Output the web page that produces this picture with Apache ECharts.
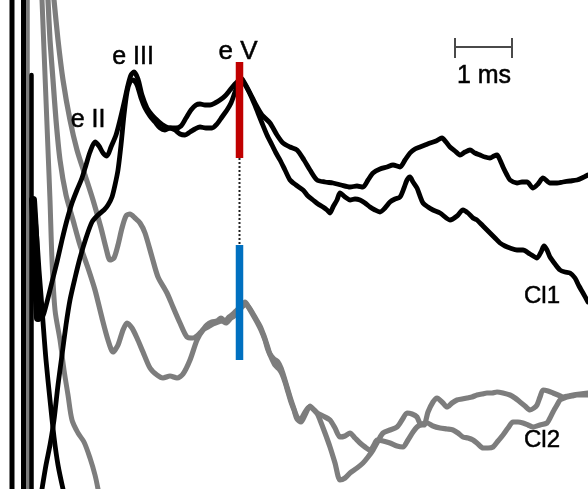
<!DOCTYPE html>
<html>
<head>
<meta charset="utf-8">
<script src="https://cdn.jsdelivr.net/npm/echarts@6/dist/echarts.min.js"></script>
<style>html,body{margin:0;padding:0;background:#fff}#c{width:588px;height:489px}</style>
</head>
<body>
<div id="c"></div>
<script>
// Values (time units on x, amplitude units on y; y grows downward)
const cl1a = [[42,318],[44,313],[47,302],[52,282],[57,262],[62,240],[67,220],[72,203],[77,190],[82,178],[86,165],[90,152],[95,142],[99,146],[103,153],[107,156],[111,147],[116,135],[120,120],[124,103],[128,85],[131,75],[134,72],[138,79],[142,95],[147,108],[152,115],[157,120],[163,125],[170,128],[176,128],[181,126],[186,118],[191,110],[196,105],[200,104],[205,105],[210,105],[215,103],[220,100],[225,96],[230,90],[234,85],[238,81],[241,78],[244,82],[250,93],[256,105],[262,115],[270,123],[277,135],[283,143],[290,147],[297,150],[304,160],[310,170],[317,180],[325,182],[333,183],[341,185],[350,187],[357,186],[363,187],[368,180],[373,173],[380,169],[387,167],[393,165],[400,167],[405,160],[410,153],[415,149],[420,147],[425,145],[430,143],[436,141],[442,138],[446,142],[450,147],[455,151],[460,155],[465,152],[470,150],[475,153],[480,155],[485,157],[490,158],[494,156],[497,155],[500,160],[503,167],[507,175],[510,180],[517,183],[522,182],[527,182],[533,188],[538,184],[543,178],[550,183],[557,183],[563,182],[570,181],[577,180],[582,178],[588,175]];
const cl1b = [[42,489],[46,465],[50,445],[54,420],[58,385],[62,355],[66,325],[70,300],[75,278],[80,258],[86,238],[92,222],[98,215],[104,210],[108,205],[112,197],[115,185],[118,170],[121,145],[124,115],[127,92],[130,82],[133,80],[137,85],[141,98],[145,108],[150,116],[155,122],[160,128],[165,130],[170,128],[175,130],[180,134],[185,135],[190,132],[195,129],[200,127],[206,128],[212,128],[217,124],[222,117],[227,110],[231,103],[235,92],[238,84],[241,80],[244,83],[249,92],[254,103],[258,113],[262,123],[267,135],[272,145],[276,153],[280,160],[285,170],[290,180],[296,185],[303,190],[308,196],[313,200],[318,204],[323,207],[327,210],[330,213],[333,207],[337,200],[340,193],[345,197],[350,200],[355,199],[360,200],[365,203],[370,207],[375,210],[380,212],[385,208],[390,202],[395,199],[400,197],[404,188],[407,180],[410,177],[413,182],[417,188],[420,196],[423,203],[428,207],[433,210],[440,213],[450,220],[457,216],[463,210],[468,213],[473,218],[477,220],[483,226],[490,233],[495,238],[500,243],[505,246],[510,248],[517,250],[523,250],[530,254],[537,258],[541,252],[544,246],[547,250],[550,257],[555,264],[560,270],[565,272],[570,273],[575,278],[579,286],[583,293],[588,302]];
const cl2a = [[54,0],[58,40],[63,80],[70,120],[77,150],[85,175],[93,200],[101,228],[106,248],[110,260],[114,258],[118,245],[122,228],[126,216],[130,214],[135,218],[140,223],[145,233],[152,257],[158,277],[167,293],[173,307],[180,323],[187,337],[193,338],[200,333],[207,325],[212,322],[217,321],[221,318],[225,321],[229,317],[233,314],[237,310],[241,306],[245,302],[248,306],[252,312],[256,319],[260,326],[264,336],[267,345],[270,354],[274,359],[278,362],[281,368],[284,377],[287,387],[290,397],[293,406],[297,417],[300,420],[304,414],[309,407],[313,409],[317,413],[320,420],[325,433],[330,447],[335,463],[340,480],[345,478],[350,473],[357,468],[363,463],[368,457],[373,450],[378,441],[383,433],[390,430],[397,427],[402,420],[407,413],[412,414],[417,417],[421,425],[424,425],[428,412],[433,402],[437,398],[443,403],[447,407],[452,403],[457,400],[462,399],[467,398],[472,397],[477,395],[482,394],[487,393],[492,393],[497,392],[503,393],[510,395],[515,398],[520,402],[525,406],[530,410],[534,408],[537,405],[540,397],[543,390],[548,391],[553,393],[558,395],[563,397],[568,396],[573,395],[580,394],[588,393]];
const cl2b = [[48,0],[50,40],[53,80],[56,120],[60,160],[66,195],[73,220],[80,245],[88,268],[95,290],[102,318],[108,340],[113,352],[118,345],[123,330],[127,323],[132,328],[137,338],[143,352],[150,368],[157,375],[163,378],[170,376],[177,378],[183,374],[190,360],[197,340],[203,330],[208,327],[213,324],[218,322],[222,321],[226,323],[230,319],[234,316],[238,312],[242,307],[246,304],[249,308],[253,315],[257,322],[261,330],[265,340],[268,350],[271,357],[275,365],[279,369],[282,374],[285,382],[288,392],[291,402],[294,410],[297,419],[301,422],[305,415],[310,406],[314,410],[317,413],[323,416],[330,420],[335,428],[340,437],[345,436],[350,433],[355,438],[360,443],[365,447],[370,450],[374,445],[377,440],[383,441],[390,443],[397,446],[403,447],[408,440],[413,432],[417,427],[422,424],[427,423],[433,426],[440,428],[447,429],[453,430],[458,433],[463,437],[468,438],[473,440],[478,444],[483,448],[488,448],[493,447],[498,441],[503,435],[508,428],[513,422],[518,422],[523,423],[528,425],[533,427],[540,425],[547,423],[550,418],[553,412],[557,405],[560,400],[564,398],[567,397],[572,396],[577,395],[582,395],[588,395]];
// stimulus artifact tails
const artGray = [[42,0],[44,50],[46,100],[48,150],[50,200],[52,260],[55,310],[60,340],[64,370],[68,395],[72,420],[78,433],[84,442],[90,458],[95,475],[98,489]];
const artBlack = [[34,205],[37,240],[39,270],[41,295],[43,322],[46,360],[50,400],[54,437],[58,465],[63,489]];
const artBlob = [[33,200],[35,235],[36,270],[37,300],[38,318]];
const artVerticalBlack = [12, 23.5];
const artVerticalGray = [27.5];
const artVerticalBlackLate = [[31.5,75],[31.5,489]];
// wave V marker
const peakVLatency = 239.5;
const cl1Bar = [62, 158];
const cl2Bar = [245, 360];
// scale bar (1 ms)
const scaleBar = [455, 512];
const scaleBarLevel = 47;
const scaleBarTick = [38, 58];
// annotations
const labelNames = ['e II', 'e III', 'e V', '1 ms', 'Cl1', 'Cl2'];
const labelAnchors = [[88,120],[133,57],[238,52],[484,76],[542,296],[542,440]];
const labelSizes = [25, 25, 26, 25, 24, 24];

const BLACK = '#000000', GRAY = '#7d7d7d';
function trace(data, color, width, z, smooth) {
  return {type:'line', data, showSymbol:false, symbol:'none', silent:true, animation:false, z:z||2,
    smooth: smooth || false,
    lineStyle:{color, width, join:'round', cap:'round'}};
}
const series = [];
artVerticalBlack.forEach(x => series.push(trace([[x,0],[x,489]], BLACK, 5, 3)));
artVerticalGray.forEach(x => series.push(trace([[x,0],[x,489]], GRAY, 4.5, 2)));
series.push(trace(artVerticalBlackLate, BLACK, 4.5, 3));
series.push(trace(artBlob, BLACK, 8, 3, 0.3));
series.push(trace(artGray, GRAY, 5, 2, 0.3));
series.push(trace(artBlack, BLACK, 4.8, 3, 0.3));
series.push(trace(cl2a, GRAY, 5.2, 2, 0.25));
series.push(trace(cl2b, GRAY, 5.2, 2, 0.25));
series.push(trace(cl1a, BLACK, 4.8, 3, 0.25));
series.push(trace(cl1b, BLACK, 4.8, 3, 0.25));
// dotted connector
series.push({type:'line', data:[[peakVLatency,cl1Bar[1]],[peakVLatency,cl2Bar[0]]], symbol:'none', silent:true, animation:false, z:4,
  lineStyle:{color:'#222', width:2, type:[2,2]}});
series.push({type:'line', data:[[peakVLatency,cl1Bar[0]],[peakVLatency,cl1Bar[1]]], symbol:'none', silent:true, animation:false, z:5,
  lineStyle:{color:'#C00000', width:7.5, cap:'butt'}});
series.push({type:'line', data:[[peakVLatency,cl2Bar[0]],[peakVLatency,cl2Bar[1]]], symbol:'none', silent:true, animation:false, z:5,
  lineStyle:{color:'#0070C0', width:7.5, cap:'butt'}});
// scale bar
series.push({type:'line', data:[[scaleBar[0],scaleBarTick[0]],[scaleBar[0],scaleBarTick[1]],[scaleBar[0],scaleBarLevel],[scaleBar[1],scaleBarLevel],[scaleBar[1],scaleBarTick[0]],[scaleBar[1],scaleBarTick[1]]],
  symbol:'none', silent:true, animation:false, lineStyle:{color:'#4a4a4a', width:2}});
// text labels
series.push({type:'scatter', symbolSize:0, silent:true, animation:false, z:10,
  itemStyle:{opacity:1},
  data: labelAnchors.map((p,i)=>({value:p, name:labelNames[i], label:{fontSize:labelSizes[i]}})),
  label:{show:true, position:'inside', formatter:p=>p.name, color:'#000', opacity:1, fontSize:24,
    textBorderColor:'#000', textBorderWidth:0.5, fontFamily:'Liberation Sans, Arial, sans-serif'}});

const chart = echarts.init(document.getElementById('c'), null, {renderer:'canvas'});
chart.setOption({
  backgroundColor:'#fff',
  animation:false,
  grid:{left:0,right:0,top:0,bottom:0},
  xAxis:{type:'value', min:0, max:588, show:false},
  yAxis:{type:'value', min:0, max:489, inverse:true, show:false},
  series
});
</script>
</body>
</html>
